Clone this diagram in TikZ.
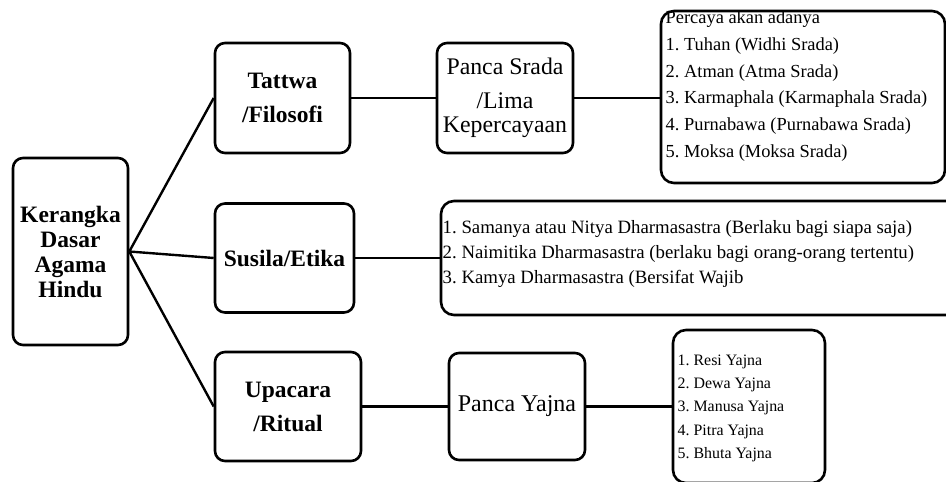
\documentclass[tikz,border=0pt]{standalone}
\usepackage{fontspec}
\setmainfont{Liberation Serif}
\frenchspacing
\usetikzlibrary{positioning}
\tikzset{
  box/.style={rectangle, draw, line width=2.6pt, rounded corners=10pt,
    align=center, inner sep=0pt},
  headbox/.style={box, font=\fontsize{23.5}{34}\selectfont\bfseries},
  listbox/.style={rectangle, draw, line width=2.6pt, rounded corners=13pt},
  listtext/.style={align=left, inner sep=0pt, anchor=north west},
  line/.style={line width=2.4pt}
}

\begin{document}
\begin{tikzpicture}[x=1pt, y=-1pt]
  \useasboundingbox (0,0) rectangle (946,482);
  % Root
  \node[box, minimum width=115pt, minimum height=187pt,
    font=\fontsize{23.5}{25}\selectfont\bfseries] (root) at (70.5,251.5) {Kerangka\\Dasar\\Agama\\Hindu};
  % Three branches
  \node[headbox, minimum width=135pt, minimum height=110pt] (tattwa) at (282.5,98) {Tattwa\\/Filosofi};
  \node[headbox, minimum width=139pt, minimum height=109pt] (susila) at (284.5,258) {Susila/Etika};
  \node[headbox, minimum width=146pt, minimum height=109pt] (upacara) at (288,406.5) {Upacara\\/Ritual};
  % Second level
  \node[box, minimum width=136pt, minimum height=110pt,
    font=\fontsize{23.8}{24}\selectfont] (srada) at (505,98) {Panca Srada\\[10pt]/Lima\\Kepercayaan};
  \node[box, minimum width=136pt, minimum height=107pt,
    font=\fontsize{24}{24}\selectfont] (yajna) at (517,406.5) {Panca Yajna};
  % Lists
  \node[listbox, minimum width=284pt, minimum height=172pt] (sradalist) at (803,97) {};
  \node[listtext, font=\fontsize{18.4}{26.8}\selectfont] (sradaitems) at (665.5,10.5)
    {Percaya akan adanya\\1. Tuhan (Widhi Srada)\\2. Atman (Atma Srada)\\3. Karmaphala (Karmaphala Srada)\\4. Purnabawa (Purnabawa Srada)\\5. Moksa (Moksa Srada)};
  \node[listbox, minimum width=524pt, minimum height=114pt] (susilalist) at (703,258) {};
  \node[listtext, font=\fontsize{18.8}{25}\selectfont] (susilaitems) at (442.5,220.5)
    {1. Samanya atau Nitya Dharmasastra (Berlaku bagi siapa saja)\\2. Naimitika Dharmasastra (berlaku bagi orang-orang tertentu)\\3. Kamya Dharmasastra (Bersifat Wajib};
  \node[listbox, minimum width=152pt, minimum height=153pt] (yajnalist) at (749,406.5) {};
  \node[listtext, font=\fontsize{15.9}{23.3}\selectfont] (yajnaitems) at (677.5,354.5)
    {1. Resi Yajna\\2. Dewa Yajna\\3. Manusa Yajna\\4. Pitra Yajna\\5. Bhuta Yajna};

  \draw[line] (root.east) -- (tattwa.west);
  \draw[line] (root.east) -- (susila.west);
  \draw[line] (root.east) -- (upacara.west);
  \draw[line] (tattwa) -- (srada);
  \draw[line] (srada.east) -- (srada.east -| sradalist.west);
  \draw[line] (susila) -- (susilalist);
  \draw[line] (upacara) -- (yajna);
  \draw[line] (yajna) -- (yajnalist);
\end{tikzpicture}
\end{document}
